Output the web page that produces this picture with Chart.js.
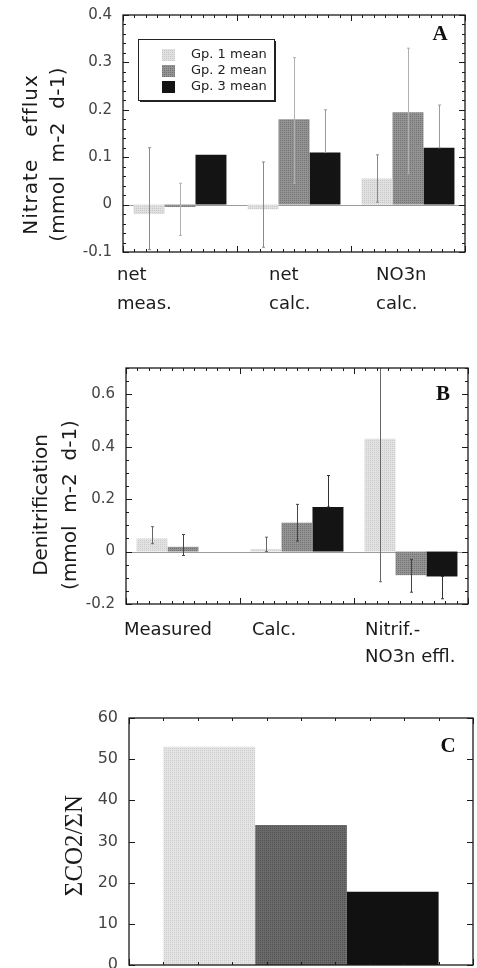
<!DOCTYPE html>
<html><head><meta charset="utf-8">
<script src="https://cdn.jsdelivr.net/npm/chart.js@4.4.1/dist/chart.umd.min.js"></script>
<style>
html,body{margin:0;padding:0;background:#fff;width:477px;height:968px;overflow:hidden}
.panel{position:absolute;left:0;width:477px}
</style></head><body>
<div class="panel" style="top:0;height:320px"><canvas id="cA"></canvas></div>
<div class="panel" style="top:320px;height:350px"><canvas id="cB"></canvas></div>
<div class="panel" style="top:670px;height:298px"><canvas id="cC"></canvas></div>
<script>
// ---------- DATA ----------
const seriesNames = ['Gp. 1 mean', 'Gp. 2 mean', 'Gp. 3 mean'];

// Panel A : Nitrate efflux
const catsA = [['net', 'meas.'], ['net', 'calc.'], ['NO3n', 'calc.']];
const aGp1 = [-0.02, -0.01, 0.055];
const aGp2 = [-0.005, 0.18, 0.195];
const aGp3 = [0.105, 0.11, 0.12];
const aGp1Lo = [-0.095, -0.09, 0.005];
const aGp1Hi = [0.12, 0.09, 0.105];
const aGp2Lo = [-0.065, 0.045, 0.065];
const aGp2Hi = [0.045, 0.31, 0.33];
const aGp3Lo = [null, 0.11, 0.12];
const aGp3Hi = [null, 0.2, 0.21];
const aTicks = ['-0.1', '0', '0.1', '0.2', '0.3', '0.4'];

// Panel B : Denitrification
const catsB = [['Measured'], ['Calc.'], ['Nitrif.-', 'NO3n effl.']];
const bGp1 = [0.05, 0.01, 0.43];
const bGp2 = [0.018, 0.11, -0.09];
const bGp3 = [0.0, 0.17, -0.095];
const bGp1Lo = [0.03, 0.0, -0.115];
const bGp1Hi = [0.095, 0.055, 0.8];
const bGp2Lo = [-0.015, 0.04, -0.155];
const bGp2Hi = [0.065, 0.18, -0.03];
const bGp3Lo = [null, 0.17, -0.18];
const bGp3Hi = [null, 0.29, -0.095];
const bTicks = ['-0.2', '0', '0.2', '0.4', '0.6'];

// Panel C : sum CO2 / sum N
const catsC = [''];
const cGp1 = [53];
const cGp2 = [34];
const cGp3 = [17.8];
const cTicks = ['0', '10', '20', '30', '40', '50', '60'];

// ---------- STYLE ----------
const SANS = "'DejaVu Sans', sans-serif";
const SERIF = "'Liberation Serif', 'DejaVu Serif', serif";

function dotPattern(base, dot) {
  const c = document.createElement('canvas');
  c.width = 2; c.height = 2;
  const g = c.getContext('2d');
  g.fillStyle = base; g.fillRect(0, 0, 2, 2);
  g.fillStyle = dot; g.fillRect(0, 0, 1, 1);
  return g.createPattern(c, 'repeat');
}

const decor = {
  id: 'decor',
  beforeDatasetsDraw(chart, args, o) {
    const {ctx, chartArea: ca, scales: {y}} = chart;
    if (o.zeroLine) {
      const py = Math.round(y.getPixelForValue(0)) + 0.5;
      ctx.save();
      ctx.strokeStyle = '#9c9c9c'; ctx.lineWidth = 1.2;
      ctx.beginPath(); ctx.moveTo(ca.left, py); ctx.lineTo(ca.right, py); ctx.stroke();
      ctx.restore();
    }
  },
  afterDatasetsDraw(chart, args, o) {
    const {ctx, chartArea: ca, scales: {y}} = chart;
    ctx.save();
    ctx.beginPath(); ctx.rect(ca.left, ca.top, ca.right - ca.left, ca.bottom - ca.top); ctx.clip();
    chart.data.datasets.forEach((ds, di) => {
      if (!ds.errLo) return;
      const meta = chart.getDatasetMeta(di);
      meta.data.forEach((bar, i) => {
        const lo = ds.errLo[i], hi = ds.errHi[i];
        if (lo == null || hi == null) return;
        const px = Math.round(bar.x) + 0.5;
        const y1 = y.getPixelForValue(hi), y2 = y.getPixelForValue(lo);
        ctx.strokeStyle = ds.errColor || '#777'; ctx.lineWidth = 1;
        ctx.beginPath();
        ctx.moveTo(px, y1); ctx.lineTo(px, y2);
        ctx.moveTo(px - 1.5, y1); ctx.lineTo(px + 1.5, y1);
        ctx.moveTo(px - 1.5, y2); ctx.lineTo(px + 1.5, y2);
        ctx.stroke();
      });
    });
    ctx.restore();
  },
  afterDraw(chart, args, o) {
    const {ctx, chartArea: ca, scales: {x, y}} = chart;
    ctx.save();
    // frame
    ctx.strokeStyle = '#1a1a1a'; ctx.lineWidth = 1.3;
    ctx.strokeRect(ca.left, ca.top, ca.right - ca.left, ca.bottom - ca.top);
    // y ticks (inside, both sides)
    ctx.lineWidth = 1;
    const eps = 1e-9;
    for (let v = y.min; v <= y.max + eps; v += o.yMinor) {
      const vv = Math.round(v * 1e6) / 1e6;
      const py = Math.round(y.getPixelForValue(vv)) + 0.5;
      const r = vv / o.yMajor;
      const major = Math.abs(r - Math.round(r)) < 1e-6;
      const len = major ? 6 : 3;
      ctx.beginPath();
      ctx.moveTo(ca.left, py); ctx.lineTo(ca.left + len, py);
      ctx.moveTo(ca.right, py); ctx.lineTo(ca.right - len, py);
      ctx.stroke();
    }
    // x ticks (inside, top and bottom)
    const n = chart.data.labels.length;
    const steps = n * o.xDiv;
    for (let k = 0; k <= steps; k++) {
      const px = Math.round(x.getPixelForValue(-0.5 + k / o.xDiv)) + 0.5;
      const major = (k % o.xDiv === 0);
      const len = major ? 6 : 3;
      ctx.beginPath();
      ctx.moveTo(px, ca.bottom); ctx.lineTo(px, ca.bottom - len);
      ctx.moveTo(px, ca.top); ctx.lineTo(px, ca.top + len);
      ctx.stroke();
    }
    // category labels
    if (o.catLabels) {
      ctx.fillStyle = '#1a1a1a';
      ctx.font = o.catFont;
      ctx.textAlign = 'left'; ctx.textBaseline = 'alphabetic';
      chart.data.labels.forEach((lab, i) => {
        const lines = Array.isArray(lab) ? lab : [lab];
        const px = x.getPixelForValue(i) + o.catDx[i];
        lines.forEach((t, j) => ctx.fillText(t, px, o.catBase + j * o.catLine));
      });
    }
    // y title
    ctx.fillStyle = '#1a1a1a';
    ctx.font = o.titleFont;
    ctx.textAlign = 'center'; ctx.textBaseline = 'alphabetic';
    const cy = (ca.top + ca.bottom) / 2 + o.titleDy;
    o.title.forEach((t, j) => {
      ctx.save();
      ctx.translate(o.titleBase[j], cy);
      ctx.rotate(-Math.PI / 2);
      if (o.titleSpacing) ctx.letterSpacing = o.titleSpacing[j] + 'px';
      ctx.fillText(t, 0, 0);
      ctx.restore();
    });
    // panel letter
    ctx.font = 'bold 21px ' + SERIF;
    ctx.textAlign = 'center';
    ctx.fillStyle = '#111';
    ctx.fillText(o.letter, ca.right - 25, ca.top + o.letterDy);
    // legend
    if (o.legend) {
      const L = o.legend;
      const bx = ca.left + L.dx, by = ca.top + L.dy;
      ctx.fillStyle = '#fff';
      ctx.fillRect(bx, by, L.w, L.h);
      ctx.fillStyle = '#222';
      ctx.fillRect(bx + L.w, by + 2, 2, L.h);
      ctx.fillRect(bx + 2, by + L.h, L.w, 2);
      ctx.strokeStyle = '#222'; ctx.lineWidth = 1;
      ctx.strokeRect(bx + 0.5, by + 0.5, L.w, L.h);
      ctx.font = '13px ' + SANS;
      ctx.textAlign = 'left'; ctx.textBaseline = 'middle';
      chart.data.datasets.forEach((ds, i) => {
        const ry = by + 16 + i * 16;
        ctx.fillStyle = ds.backgroundColor;
        ctx.fillRect(bx + 24, ry - 6, 13, 12);
        ctx.fillStyle = '#222';
        ctx.fillText(ds.label, bx + 53, ry);
      });
    }
    ctx.restore();
  }
};

function makeChart(id, cfg) {
  const ds = cfg.series.map((s, i) => ({
    label: seriesNames[i],
    data: s.data,
    errLo: s.lo, errHi: s.hi,
    errColor: cfg.errColors[i],
    backgroundColor: cfg.colors[i],
    borderWidth: 0,
    categoryPercentage: cfg.catPct,
    barPercentage: 1.0
  }));
  return new Chart(document.getElementById(id), {
    type: 'bar',
    data: {labels: cfg.labels, datasets: ds},
    plugins: [decor],
    options: {
      responsive: true, maintainAspectRatio: false, animation: false,
      devicePixelRatio: 1,
      layout: {padding: cfg.pad},
      plugins: {legend: {display: false}, tooltip: {enabled: false}, decor: cfg.decor},
      scales: {
        x: {
          grid: {display: false, drawTicks: false}, border: {display: false},
          ticks: {display: false},
          afterFit(s) { s.height = cfg.xH; s.paddingLeft = 0; s.paddingRight = 0; }
        },
        y: {
          min: cfg.yMin, max: cfg.yMax,
          grid: {display: false, drawTicks: false}, border: {display: false},
          afterFit(s) { s.width = cfg.yW; s.paddingTop = 0; s.paddingBottom = 0; },
          afterBuildTicks(s) { s.ticks = cfg.yTicks.map(t => ({value: parseFloat(t)})); },
          ticks: {
            padding: 11, color: '#444',
            font: {family: SANS, size: cfg.tickSize},
            callback: (v) => cfg.yTicks.find(t => Math.abs(parseFloat(t) - v) < 1e-9)
          }
        }
      }
    }
  });
}

makeChart('cA', {
  labels: catsA,
  series: [
    {data: aGp1, lo: aGp1Lo, hi: aGp1Hi},
    {data: aGp2, lo: aGp2Lo, hi: aGp2Hi},
    {data: aGp3, lo: aGp3Lo, hi: aGp3Hi}
  ],
  colors: [dotPattern('#e0e0e0', '#c9c9c9'), dotPattern('#939393', '#737373'), '#141414'],
  errColors: ['#8a8a8a', '#b0b0b0', '#9a9a9a'],
  catPct: 0.815,
  pad: {top: 15, right: 12, left: 0, bottom: 0},
  xH: 68, yW: 123, yMin: -0.1, yMax: 0.4, yTicks: aTicks, tickSize: 15,
  decor: {
    zeroLine: true, yMinor: 0.02, yMajor: 0.1, xDiv: 10,
    catLabels: true, catFont: '18px ' + SANS, catDx: [-63, -25, -32], catBase: 280, catLine: 29,
    title: ['Nitrate   efflux', '(mmol  m-2  d-1)'], titleFont: '20px ' + SANS,
    titleBase: [37, 64], titleDy: 21, titleSpacing: [1, 0.3],
    letter: 'A', letterDy: 25,
    legend: {dx: 15, dy: 24, w: 136, h: 61}
  }
});

makeChart('cB', {
  labels: catsB,
  series: [
    {data: bGp1, lo: bGp1Lo, hi: bGp1Hi},
    {data: bGp2, lo: bGp2Lo, hi: bGp2Hi},
    {data: bGp3, lo: bGp3Lo, hi: bGp3Hi}
  ],
  colors: [dotPattern('#e2e2e2', '#cbcbcb'), dotPattern('#939393', '#737373'), '#141414'],
  errColors: ['#666', '#444', '#333'],
  catPct: 0.815,
  pad: {top: 48, right: 9, left: 0, bottom: 0},
  xH: 66, yW: 126, yMin: -0.2, yMax: 0.7, yTicks: bTicks, tickSize: 15,
  decor: {
    zeroLine: true, yMinor: 0.05, yMajor: 0.2, xDiv: 10,
    catLabels: true, catFont: '18px ' + SANS, catDx: [-59, -45, -46], catBase: 315, catLine: 27,
    title: ['Denitrification', '(mmol  m-2  d-1)'], titleFont: '20px ' + SANS,
    titleBase: [47, 76], titleDy: 19,
    letter: 'B', letterDy: 32
  }
});

makeChart('cC', {
  labels: catsC,
  series: [
    {data: cGp1}, {data: cGp2}, {data: cGp3}
  ],
  colors: [dotPattern('#e4e4e4', '#cdcdcd'), dotPattern('#6a6a6a', '#525252'), '#111111'],
  errColors: ['#777', '#777', '#777'],
  catPct: 0.8,
  pad: {top: 48, right: 4, left: 0, bottom: 0},
  xH: 3, yW: 129, yMin: 0, yMax: 60, yTicks: cTicks, tickSize: 16,
  decor: {
    zeroLine: false, yMinor: 10, yMajor: 10, xDiv: 10,
    catLabels: false,
    title: ['\u03A3CO2/\u03A3N'], titleFont: '25px ' + SERIF,
    titleBase: [82], titleDy: 4,
    letter: 'C', letterDy: 34
  }
});
</script>
</body></html>
